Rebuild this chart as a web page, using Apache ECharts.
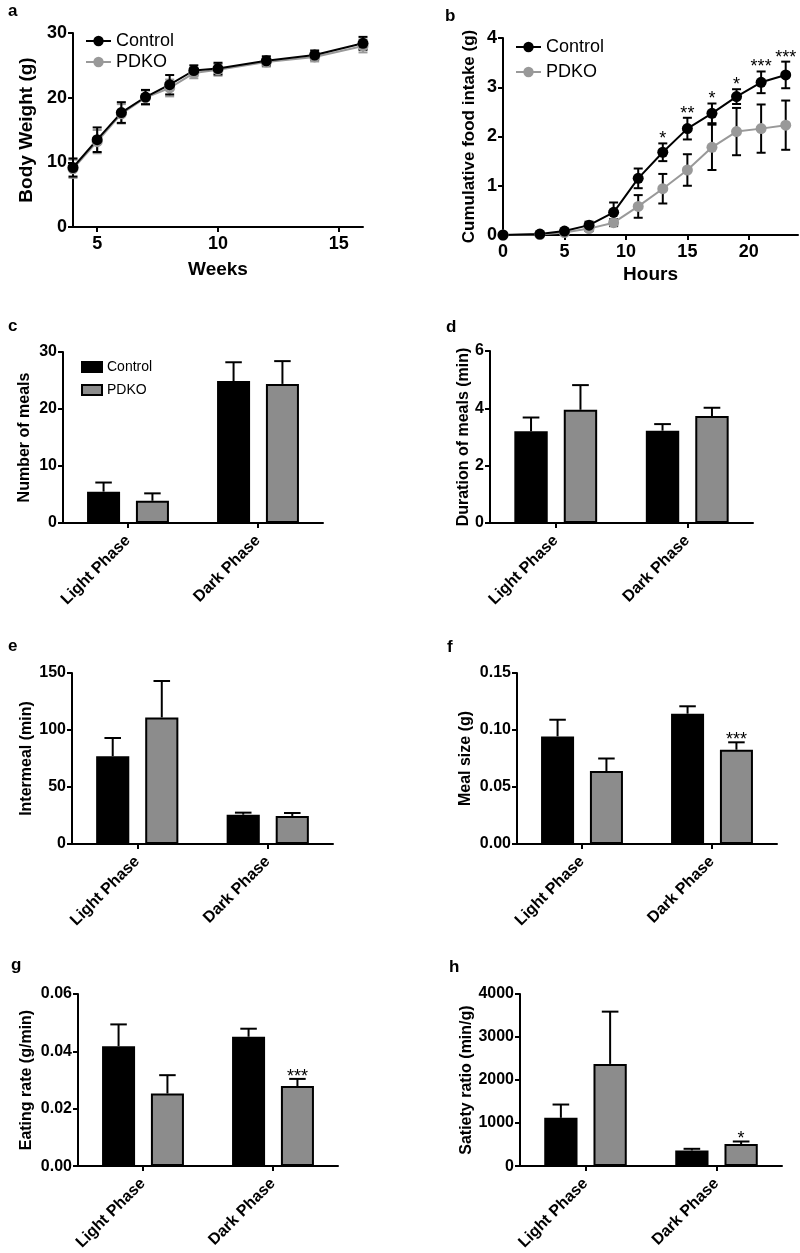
<!DOCTYPE html>
<html>
<head>
<meta charset="utf-8">
<script src="https://cdn.jsdelivr.net/npm/echarts@6/dist/echarts.min.js"></script>
<style>html,body{margin:0;padding:0;background:#fff}#c{width:800px;height:1253px}</style>
</head>
<body>
<div id="c"></div>
<script>
// ---------------- DATA ----------------
const weeks = [4, 5, 6, 7, 8, 9, 10, 12, 14, 16];
const bwControl = [9.2, 13.5, 17.7, 20.1, 22.0, 24.2, 24.5, 25.7, 26.6, 28.4];
const bwControlErr = [1.4, 1.9, 1.6, 1.1, 1.5, 0.8, 0.9, 0.7, 0.7, 1.0];
const bwPdko = [9.0, 13.2, 17.5, 20.0, 21.5, 23.8, 24.3, 25.5, 26.3, 28.0];
const bwPdkoErr = [1.4, 1.8, 1.5, 1.1, 1.3, 0.8, 0.9, 0.7, 0.7, 1.0];
const weekTicks = [5, 10, 15];

const hours = [0, 3, 5, 7, 9, 11, 13, 15, 17, 19, 21, 23];
const fiControl = [0, 0.02, 0.08, 0.2, 0.46, 1.15, 1.68, 2.16, 2.47, 2.81, 3.1, 3.25];
const fiControlErr = [0, 0.01, 0.03, 0.07, 0.2, 0.2, 0.18, 0.22, 0.2, 0.15, 0.22, 0.27];
const fiPdko = [0, 0.01, 0.05, 0.13, 0.25, 0.58, 0.94, 1.32, 1.78, 2.1, 2.16, 2.23];
const fiPdkoErr = [0, 0.01, 0.03, 0.05, 0.07, 0.23, 0.3, 0.32, 0.46, 0.48, 0.49, 0.5];
const hourTicks = [0, 5, 10, 15, 20];
const fiSigHours = [13, 15, 17, 19, 21, 23];
const fiSigMarks = ['*', '**', '*', '*', '***', '***'];

const phases = ['Light Phase', 'Dark Phase'];

const mealsControl = [5.5, 24.9];
const mealsControlErr = [1.6, 3.3];
const mealsPdko = [3.9, 24.4];
const mealsPdkoErr = [1.3, 4.0];

const durControl = [3.2, 3.22];
const durControlErr = [0.48, 0.23];
const durPdko = [3.95, 3.73];
const durPdkoErr = [0.86, 0.29];

const interControl = [77, 25.7];
const interControlErr = [16, 1.8];
const interPdko = [111, 24.6];
const interPdkoErr = [32, 2.6];

const sizeControl = [0.0944, 0.1143];
const sizeControlErr = [0.0146, 0.0065];
const sizePdko = [0.064, 0.0827];
const sizePdkoErr = [0.011, 0.0065];
const sizePdkoSig = ['', '***'];

const rateControl = [0.0418, 0.0451];
const rateControlErr = [0.0076, 0.0028];
const ratePdko = [0.0253, 0.0279];
const ratePdkoErr = [0.0064, 0.0025];
const ratePdkoSig = ['', '***'];

const satControl = [1122, 364];
const satControlErr = [309, 38];
const satPdko = [2375, 511];
const satPdkoErr = [1215, 61];
const satPdkoSig = ['', '*'];

// ---------------- STYLE / LAYOUT ----------------
const FONT = '"Liberation Sans", Arial, Helvetica, sans-serif';
const GREY_LINE = '#999999';
const GREY_BAR = '#8c8c8c';
const BAR_W = 0.254;
const BAR_GAP = 0.48;

const grids = [
  {left: 73, top: 33, width: 290, height: 194},   // a
  {left: 503, top: 38, width: 295, height: 197},  // b
  {left: 63, top: 352, width: 260, height: 171},  // c
  {left: 490, top: 351, width: 263, height: 172}, // d
  {left: 72, top: 673, width: 261, height: 171},  // e
  {left: 517, top: 673, width: 260, height: 171}, // f
  {left: 78, top: 994, width: 260, height: 173},  // g
  {left: 520, top: 994, width: 262, height: 173}  // h
];

const axisLine = {show: true, onZero: false, lineStyle: {color: '#000', width: 2}};
const axisTick = {show: true, length: 5, lineStyle: {color: '#000', width: 2}};

function yAxisCfg(gi, min, max, interval, name, nameGap, labelSize, nameSize, decimals) {
  return {
    type: 'value', gridIndex: gi, min: min, max: max, interval: interval,
    name: name, nameLocation: 'middle', nameRotate: 90, nameGap: nameGap,
    nameTextStyle: {fontFamily: FONT, fontWeight: 'bold', fontSize: nameSize, color: '#000'},
    axisLine: axisLine, axisTick: axisTick, splitLine: {show: false},
    axisLabel: {
      fontFamily: FONT, fontWeight: 'bold', fontSize: labelSize, color: '#000', margin: 6,
      formatter: v => decimals ? v.toFixed(decimals) : String(Math.round(v))
    }
  };
}

function catAxisCfg(gi) {
  return {
    type: 'category', gridIndex: gi, data: phases, boundaryGap: true,
    axisLine: axisLine,
    axisTick: {show: true, alignWithLabel: true, length: 5, lineStyle: {color: '#000', width: 2}},
    axisLabel: {fontFamily: FONT, fontWeight: 'bold', fontSize: 16, color: '#000', rotate: 45, margin: 15, interval: 0}
  };
}

function lineErr(gi, xs, ys, errs, color) {
  return {
    type: 'custom', xAxisIndex: gi, yAxisIndex: gi, silent: true, z: 2,
    data: xs.map((x, i) => [x, ys[i], errs[i]]),
    encode: {x: 0, y: 1},
    renderItem: function (params, api) {
      const x = api.value(0), y = api.value(1), e = api.value(2);
      const t = api.coord([x, y + e]);
      const b = api.coord([x, y - e]);
      const hw = 4.5;
      const st = {stroke: color, lineWidth: 2};
      return {type: 'group', children: [
        {type: 'line', shape: {x1: t[0], y1: t[1], x2: b[0], y2: b[1]}, style: st},
        {type: 'line', shape: {x1: t[0] - hw, y1: t[1], x2: t[0] + hw, y2: t[1]}, style: st},
        {type: 'line', shape: {x1: b[0] - hw, y1: b[1], x2: b[0] + hw, y2: b[1]}, style: st}
      ]};
    }
  };
}

function lineSeries(gi, name, xs, ys, color) {
  return {
    type: 'line', name: name, xAxisIndex: gi, yAxisIndex: gi,
    data: xs.map((x, i) => [x, ys[i]]),
    symbol: 'circle', symbolSize: 11, z: 3,
    lineStyle: {color: color, width: 2}, itemStyle: {color: color},
    emphasis: {disabled: true}, animation: false
  };
}

function barSeries(gi, name, vals, color) {
  return {
    type: 'bar', name: name, xAxisIndex: gi, yAxisIndex: gi, data: vals,
    barWidth: (BAR_W * 100) + '%', barGap: (BAR_GAP * 100) + '%',
    itemStyle: {color: color, borderColor: '#000', borderWidth: 2},
    emphasis: {disabled: true}, animation: false
  };
}

function barErr(gi, vals, errs, side, marks) {
  return {
    type: 'custom', xAxisIndex: gi, yAxisIndex: gi, silent: true, z: 3,
    data: vals.map((v, i) => [i, v, errs[i]]),
    encode: {x: 0, y: 1},
    renderItem: function (params, api) {
      const i = api.value(0), v = api.value(1), e = api.value(2);
      const band = api.size([1, 0])[0];
      const w = band * BAR_W;
      const off = side * (w * (1 + BAR_GAP)) / 2;
      const p0 = api.coord([i, v]);
      const p1 = api.coord([i, v + e]);
      const x = p0[0] + off;
      const st = {stroke: '#000', lineWidth: 2};
      const ch = [
        {type: 'line', shape: {x1: x, y1: p0[1], x2: x, y2: p1[1]}, style: st},
        {type: 'line', shape: {x1: x - w * 0.25, y1: p1[1], x2: x + w * 0.25, y2: p1[1]}, style: st}
      ];
      const m = marks ? marks[params.dataIndex] : '';
      if (m) {
        ch.push({type: 'text', x: x, y: p1[1] + 7, style: {text: m, font: '18px ' + FONT, fill: '#000', textAlign: 'center', textVerticalAlign: 'bottom'}});
      }
      return {type: 'group', children: ch};
    }
  };
}

function sigSeries(gi, xs, allX, ys, errs, marks) {
  return {
    type: 'custom', xAxisIndex: gi, yAxisIndex: gi, silent: true, z: 4,
    data: xs.map(x => { const k = allX.indexOf(x); return [x, ys[k] + errs[k]]; }),
    encode: {x: 0, y: 1},
    renderItem: function (params, api) {
      const p = api.coord([api.value(0), api.value(1)]);
      return {type: 'text', x: p[0], y: p[1] + 5, style: {text: marks[params.dataIndex], font: '18px ' + FONT, fill: '#000', textAlign: 'center', textVerticalAlign: 'bottom'}};
    }
  };
}

const panelLetters = [
  ['a', 8, 11], ['b', 445, 16], ['c', 8, 326], ['d', 446, 327],
  ['e', 8, 646], ['f', 447, 647], ['g', 11, 965], ['h', 449, 967]
];

const option = {
  backgroundColor: '#fff',
  animation: false,
  textStyle: {fontFamily: FONT},
  grid: grids,
  xAxis: [
    {
      type: 'value', gridIndex: 0, min: 4, max: 16,
      name: 'Weeks', nameLocation: 'middle', nameGap: 33,
      nameTextStyle: {fontFamily: FONT, fontWeight: 'bold', fontSize: 19, color: '#000'},
      axisLine: axisLine, splitLine: {show: false},
      axisTick: Object.assign({customValues: weekTicks}, axisTick),
      axisLabel: {customValues: weekTicks, fontFamily: FONT, fontWeight: 'bold', fontSize: 18, color: '#000', margin: 8}
    },
    {
      type: 'value', gridIndex: 1, min: 0, max: 24,
      name: 'Hours', nameLocation: 'middle', nameGap: 30,
      nameTextStyle: {fontFamily: FONT, fontWeight: 'bold', fontSize: 19, color: '#000'},
      axisLine: axisLine, splitLine: {show: false},
      axisTick: Object.assign({customValues: hourTicks}, axisTick),
      axisLabel: {customValues: hourTicks, fontFamily: FONT, fontWeight: 'bold', fontSize: 18, color: '#000', margin: 8}
    },
    catAxisCfg(2), catAxisCfg(3), catAxisCfg(4), catAxisCfg(5), catAxisCfg(6), catAxisCfg(7)
  ],
  yAxis: [
    yAxisCfg(0, 0, 30, 10, 'Body Weight (g)', 37, 18, 19, 0),
    yAxisCfg(1, 0, 4, 1, 'Cumulative food intake (g)', 25, 18, 17, 0),
    yAxisCfg(2, 0, 30, 10, 'Number of meals', 30, 16, 16, 0),
    yAxisCfg(3, 0, 6, 2, 'Duration of meals (min)', 17, 16, 16, 0),
    yAxisCfg(4, 0, 150, 50, 'Intermeal (min)', 37, 16, 16, 0),
    yAxisCfg(5, 0, 0.15, 0.05, 'Meal size (g)', 43, 16, 16, 2),
    yAxisCfg(6, 0, 0.06, 0.02, 'Eating rate (g/min)', 43, 16, 16, 2),
    yAxisCfg(7, 0, 4000, 1000, 'Satiety ratio (min/g)', 45, 16, 16, 0)
  ],
  legend: [
    {
      left: 80, top: 27, orient: 'vertical', selectedMode: false,
      data: ['Control', 'PDKO'], itemWidth: 25, itemHeight: 13, itemGap: 3,
      textStyle: {fontFamily: FONT, fontSize: 18, color: '#000'}
    },
    {
      left: 510, top: 33, orient: 'vertical', selectedMode: false,
      data: ['Control', 'PDKO'], itemWidth: 25, itemHeight: 13, itemGap: 7,
      textStyle: {fontFamily: FONT, fontSize: 18, color: '#000'}
    },
    {
      left: 76, top: 355, orient: 'vertical', selectedMode: false,
      data: [
        {name: 'Control', icon: 'rect', itemStyle: {color: '#000', borderColor: '#000', borderWidth: 2}},
        {name: 'PDKO', icon: 'rect', itemStyle: {color: GREY_BAR, borderColor: '#000', borderWidth: 2}}
      ],
      itemWidth: 20, itemHeight: 10, itemGap: 9,
      textStyle: {fontFamily: FONT, fontSize: 14, color: '#000'}
    }
  ],
  graphic: panelLetters.map(p => ({
    type: 'text', x: p[1], y: p[2],
    style: {text: p[0], font: 'bold 17px ' + FONT, fill: '#000', textVerticalAlign: 'middle'}
  })),
  series: [
    // a
    lineSeries(0, 'PDKO', weeks, bwPdko, GREY_LINE),
    lineSeries(0, 'Control', weeks, bwControl, '#000'),
    lineErr(0, weeks, bwPdko, bwPdkoErr, GREY_LINE),
    lineErr(0, weeks, bwControl, bwControlErr, '#000'),
    // b
    lineSeries(1, 'PDKO', hours, fiPdko, GREY_LINE),
    lineSeries(1, 'Control', hours, fiControl, '#000'),
    lineErr(1, hours, fiPdko, fiPdkoErr, '#000'),
    lineErr(1, hours, fiControl, fiControlErr, '#000'),
    sigSeries(1, fiSigHours, hours, fiControl, fiControlErr, fiSigMarks),
    // c
    barSeries(2, 'Control', mealsControl, '#000'),
    barSeries(2, 'PDKO', mealsPdko, GREY_BAR),
    barErr(2, mealsControl, mealsControlErr, -1),
    barErr(2, mealsPdko, mealsPdkoErr, 1),
    // d
    barSeries(3, 'Control', durControl, '#000'),
    barSeries(3, 'PDKO', durPdko, GREY_BAR),
    barErr(3, durControl, durControlErr, -1),
    barErr(3, durPdko, durPdkoErr, 1),
    // e
    barSeries(4, 'Control', interControl, '#000'),
    barSeries(4, 'PDKO', interPdko, GREY_BAR),
    barErr(4, interControl, interControlErr, -1),
    barErr(4, interPdko, interPdkoErr, 1),
    // f
    barSeries(5, 'Control', sizeControl, '#000'),
    barSeries(5, 'PDKO', sizePdko, GREY_BAR),
    barErr(5, sizeControl, sizeControlErr, -1),
    barErr(5, sizePdko, sizePdkoErr, 1, sizePdkoSig),
    // g
    barSeries(6, 'Control', rateControl, '#000'),
    barSeries(6, 'PDKO', ratePdko, GREY_BAR),
    barErr(6, rateControl, rateControlErr, -1),
    barErr(6, ratePdko, ratePdkoErr, 1, ratePdkoSig),
    // h
    barSeries(7, 'Control', satControl, '#000'),
    barSeries(7, 'PDKO', satPdko, GREY_BAR),
    barErr(7, satControl, satControlErr, -1),
    barErr(7, satPdko, satPdkoErr, 1, satPdkoSig)
  ]
};

const chart = echarts.init(document.getElementById('c'));
chart.setOption(option);
</script>
</body>
</html>
